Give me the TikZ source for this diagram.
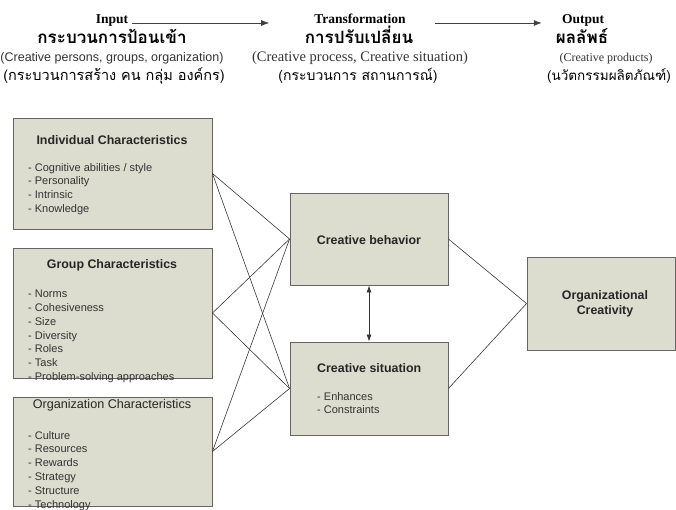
\documentclass[tikz,border=0pt]{standalone}
\usepackage{fontspec}
\setmainfont{Liberation Sans}
\newfontfamily\timesfont{Liberation Serif}
\newfontfamily\thaifont[Script=Thai]{Loma}
\usetikzlibrary{arrows.meta}
\definecolor{boxfill}{RGB}{220,220,207}
\definecolor{boxline}{RGB}{100,100,100}
\definecolor{wirecol}{RGB}{55,55,55}

\begin{document}
\begin{tikzpicture}[x=1pt,y=-1pt]

	\tikzset{box/.style={draw=boxline,fill=boxfill,line width=0.9pt,inner sep=0pt},
		head/.style={font=\fontsize{12.4}{15}\selectfont\bfseries,text=black!85,inner sep=0pt,align=center},
		items/.style={anchor=north west,align=left,inner sep=0pt,font=\fontsize{11}{13.8}\selectfont,text=black!80},
		toplab/.style={anchor=base,inner sep=0pt,font=\timesfont\fontsize{13.5}{15}\selectfont\bfseries},
		thaibig/.style={anchor=base,inner sep=0pt,font=\thaifont\fontsize{17}{20}\selectfont\bfseries},
		thaismall/.style={anchor=base,inner sep=0pt,font=\thaifont\fontsize{14.5}{16}\selectfont},
		paren/.style={anchor=base,inner sep=0pt,font=\timesfont\fontsize{14.5}{16}\selectfont,text=black!80},
		wire/.style={draw=wirecol,line width=0.6pt},
		flow/.style={-{Latex[length=8pt,width=6pt]},line width=0.8pt,draw=black!75}}
	\useasboundingbox (0,0) rectangle (676,509);

	% top row
	\node[toplab] (inp) at (112,23) {Input};
	\node[thaibig] (inpth) at (112,43) {กระบวนการป้อนเข้า};
	\node[paren,font=\fontsize{12.5}{14}\selectfont] (inpen) at (112,61) {(Creative persons, groups, organization)};
	\node[thaismall] (inpsub) at (114,80) {(กระบวนการสร้าง คน กลุ่ม องค์กร)};

	\node[toplab] (trans) at (360,23) {Transformation};
	\node[thaibig] (transth) at (359,43) {การปรับเปลี่ยน};
	\node[paren] (transen) at (360,61) {(Creative process, Creative situation)};
	\node[thaismall,font=\thaifont\fontsize{14}{16}\selectfont] (transsub) at (358,80) {(กระบวนการ สถานการณ์)};

	\node[toplab] (outp) at (583,23) {Output};
	\node[thaibig] (outth) at (582,43) {ผลลัพธ์};
	\node[paren,font=\timesfont\fontsize{12}{14}\selectfont] (outen) at (606,61) {(Creative products)};
	\node[thaismall,font=\thaifont\fontsize{13.5}{16}\selectfont] (outsub) at (609,80) {(นวัตกรรมผลิตภัณฑ์)};

	\draw[flow] ([xshift=4pt]inp.base east) -- ([xshift=-45pt]trans.base west);
	\draw[flow] ([xshift=29pt]trans.base east) -- ([xshift=-20pt]outp.base west);

	% left column
	\node[box,minimum width=199pt,minimum height=111pt] (indiv) at (112.5,173.5) {};
	\node[head] (indivh) at (112,140) {Individual Characteristics};
	\node[items] (indivl) at (28,163) {- Cognitive abilities / style\\- Personality\\- Intrinsic\\- Knowledge};

	\node[box,minimum width=199pt,minimum height=130pt] (group) at (112.5,313) {};
	\node[head] (grouph) at (112,265) {Group Characteristics};
	\node[items] (groupl) at (28,290) {- Norms\\- Cohesiveness\\- Size\\- Diversity\\- Roles\\- Task\\- Problem-solving approaches};

	\node[box,minimum width=199pt,minimum height=109pt] (org) at (112.5,451.5) {};
	\node[head,font=\fontsize{12.6}{15}\selectfont] (orgh) at (112,405) {Organization Characteristics};
	\node[items] (orgl) at (28,431) {- Culture\\- Resources\\- Rewards\\- Strategy\\- Structure\\- Technology};

	% middle column
	\node[box,minimum width=158pt,minimum height=92pt] (behav) at (369,239) {};
	\node[head] (behavh) at (369,240) {Creative behavior};

	\node[box,minimum width=158pt,minimum height=93pt] (situ) at (369,388.5) {};
	\node[head,anchor=west] (situh) at (317,368) {Creative situation};
	\node[items] (situl) at (317,392) {- Enhances\\- Constraints};

	% right
	\node[box,minimum width=148pt,minimum height=93pt] (orgcr) at (601,303.5) {};
	\node[head] (orgcrh) at (605,304) {Organizational\\Creativity};

	\foreach \src in {indiv,group,org}
		\foreach \dst in {behav,situ}
			\draw[wire] (\src.east) -- (\dst.west);
	\draw[wire] (behav.east) -- (orgcr.west);
	\draw[wire] (situ.east) -- (orgcr.west);
	\draw[{Latex[length=7pt,width=5pt]}-{Latex[length=7pt,width=5pt]},line width=0.8pt,draw=black!80] (behav.south) -- (situ.north);

\end{tikzpicture}
\end{document}
